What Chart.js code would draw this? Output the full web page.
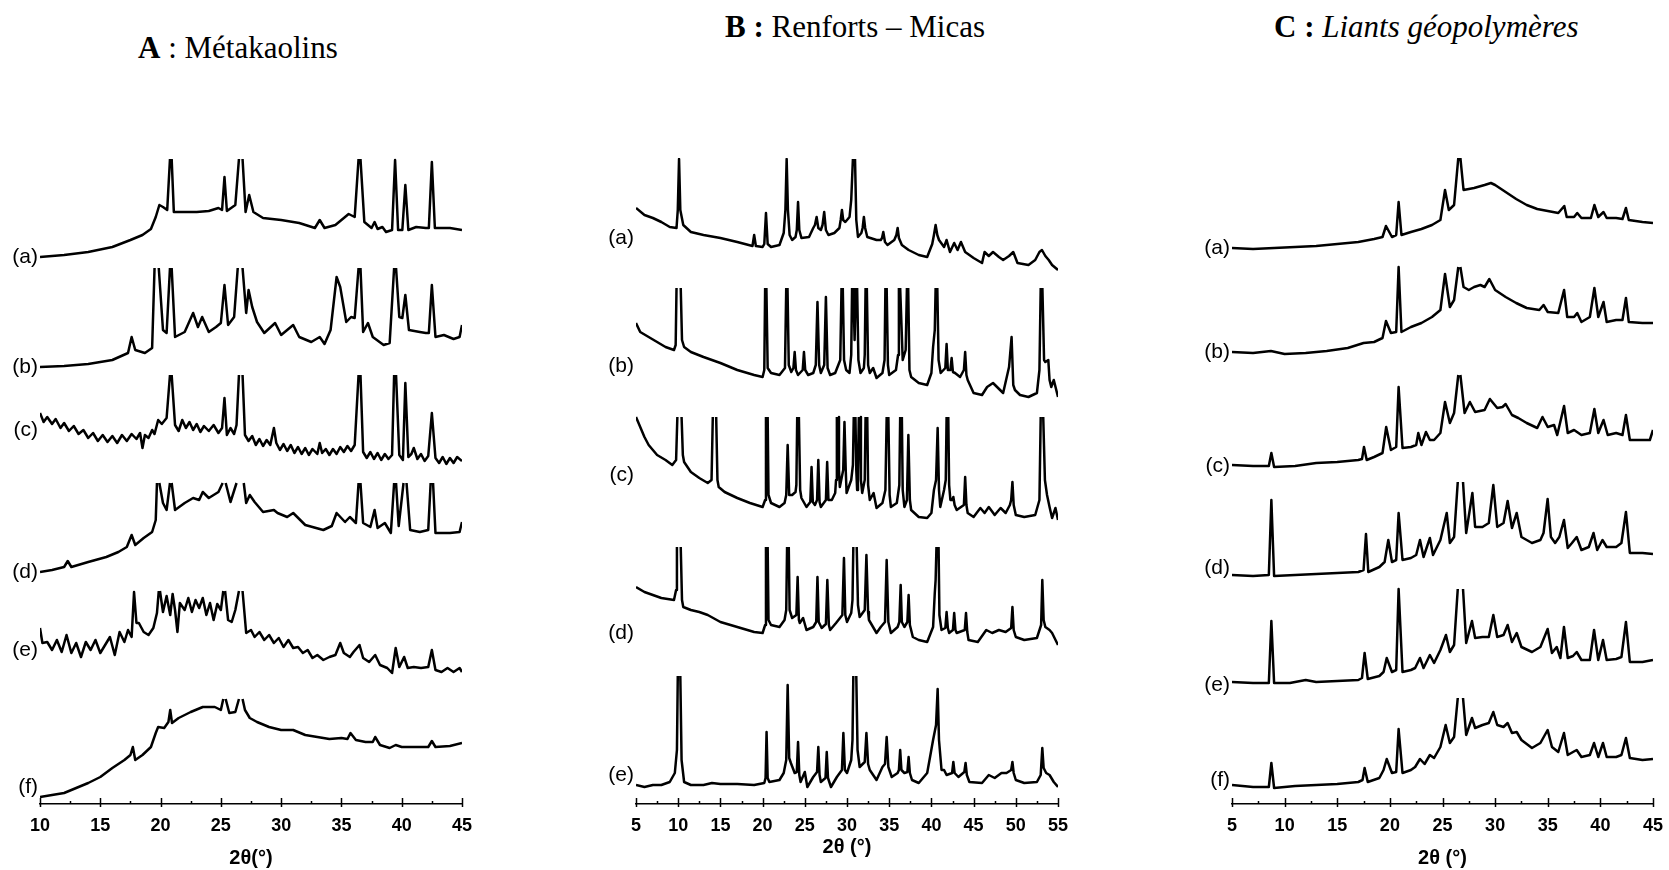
<!DOCTYPE html>
<html>
<head>
<meta charset="utf-8">
<script src="https://cdn.jsdelivr.net/npm/chart.js@4.4.1/dist/chart.umd.min.js"></script>
<style>
  body { margin: 0; background: #fff; width: 1669px; height: 870px; position: relative; overflow: hidden; }
  canvas { position: absolute; top: 0; }
  .ttl { position: absolute; font-family: "Liberation Serif", "Times New Roman", serif; font-size: 31px; line-height: 31px; color: #000; white-space: nowrap; }
</style>
</head>
<body>
<div class="ttl" style="left:138px; top:32px;"><b>A</b> : Métakaolins</div>
<div class="ttl" style="left:725px; top:11px;"><b>B :</b> Renforts – Micas</div>
<div class="ttl" style="left:1274px; top:11px;"><b>C :</b> <i>Liants géopolymères</i></div>

<canvas id="chartA" width="480" height="870" style="left:0px"></canvas>
<canvas id="chartB" width="490" height="870" style="left:590px"></canvas>
<canvas id="chartC" width="489" height="870" style="left:1180px"></canvas>

<script>
// sample labels
const labelsA = ["(a)", "(b)", "(c)", "(d)", "(e)", "(f)"];
const labelsB = ["(a)", "(b)", "(c)", "(d)", "(e)"];
const labelsC = ["(a)", "(b)", "(c)", "(d)", "(e)", "(f)"];

// A : metakaolins, [2theta, intensity a.u. incl. stacking offset]; null = cut peak top
const metaA_a = [[10,543],[12,545],[14,548],[16,553],[17.5,560],[18.5,565],[19.2,571],[19.6,583],[19.9,595],[20.2,593],[20.55,590],[20.78,641],[20.85,null],[20.92,641],[21.1,588],[22,588],[23,588],[24,589],[24.8,592],[25.1,590],[25.3,623],[25.5,589],[26.2,595],[26.5,641],[26.65,null],[26.8,641],[27.05,588],[27.35,605],[27.7,588],[28.5,582],[30,580],[31.5,577],[32.8,572],[33.2,580],[33.6,572],[34.5,575],[35.3,583],[35.6,586],[36.1,583],[36.42,641],[36.5,null],[36.58,641],[36.9,578],[37.5,572],[37.75,578],[38.0,571],[38.4,573],[38.7,568],[39.2,570],[39.45,640],[39.7,570],[40.05,570],[40.3,615],[40.55,570],[41.2,573],[42.0,572],[42.25,572],[42.5,638],[42.75,572],[44,572],[45,570]];
const metaA_b = [[10,433],[12,434],[14,436],[16,440],[17.3,447],[17.6,463],[17.9,450],[18.7,447],[19.3,452],[19.5,532],[19.68,null],[19.85,532],[20.2,470],[20.5,467],[20.78,532],[20.85,null],[20.92,532],[21.2,463],[22,468],[22.7,487],[23.1,473],[23.45,483],[24.0,468],[24.6,473],[25.0,477],[25.3,515],[25.6,475],[26.1,483],[26.4,532],[26.6,null],[26.8,532],[27.1,487],[27.3,510],[27.6,493],[28.0,478],[28.6,467],[29.5,477],[30.0,465],[31.0,475],[31.5,463],[32.5,458],[33.2,463],[33.6,456],[34.1,470],[34.6,523],[34.9,513],[35.4,478],[35.8,483],[36.1,482],[36.42,532],[36.5,null],[36.58,532],[36.8,468],[37.2,477],[37.6,463],[38.5,455],[39.0,457],[39.37,532],[39.45,null],[39.53,532],[39.8,483],[40.05,482],[40.3,505],[40.6,470],[41.5,468],[42.0,467],[42.25,467],[42.5,515],[42.8,463],[43.5,465],[44.3,461],[44.8,463],[45,475]];
const metaA_c = [[10,387],[10.3,378],[10.6,383],[11,376],[11.3,381],[11.7,372],[12,377],[12.4,369],[12.8,374],[13.2,366],[13.6,370],[14,362],[14.4,367],[14.8,359],[15.2,365],[15.6,358],[16,364],[16.4,357],[16.8,365],[17.2,359],[17.6,366],[18,361],[18.3,367],[18.5,352],[18.7,365],[19,362],[19.3,370],[19.5,366],[19.8,380],[20.1,376],[20.5,382],[20.78,425],[20.85,null],[20.92,425],[21.2,375],[21.5,369],[21.8,380],[22.1,372],[22.4,378],[22.7,370],[23,376],[23.3,368],[23.6,374],[24,369],[24.4,375],[24.8,367],[25.1,372],[25.3,402],[25.5,365],[25.8,372],[26.1,366],[26.3,375],[26.5,425],[26.65,null],[26.8,425],[27.0,365],[27.3,359],[27.6,364],[27.9,355],[28.2,361],[28.5,354],[28.8,360],[29.1,355],[29.4,372],[29.6,357],[29.9,350],[30.2,356],[30.5,349],[30.8,355],[31.1,347],[31.4,353],[31.7,346],[32,352],[32.3,345],[32.6,351],[33.0,346],[33.2,357],[33.4,347],[33.7,351],[34.0,345],[34.3,351],[34.6,346],[34.9,353],[35.2,348],[35.5,354],[35.8,349],[36.1,355],[36.42,425],[36.5,null],[36.58,425],[36.8,348],[37.1,342],[37.4,348],[37.7,341],[38,347],[38.3,340],[38.6,346],[38.9,341],[39.2,345],[39.37,425],[39.45,null],[39.53,425],[39.8,345],[40.1,340],[40.3,417],[40.55,343],[40.8,346],[41.0,352],[41.3,341],[41.6,346],[41.9,339],[42.2,344],[42.5,387],[42.8,342],[43.1,337],[43.4,343],[43.7,336],[44,342],[44.3,337],[44.6,343],[45,339]];
const metaA_d = [[10,228],[11,230],[12.0,233],[12.3,239],[12.6,233],[14,238],[15.5,243],[16.5,248],[17.2,253],[17.6,265],[17.9,255],[18.6,262],[19.3,268],[19.6,280],[19.7,317],[19.8,null],[19.9,317],[20.2,297],[20.5,290],[20.78,317],[20.85,null],[20.92,317],[21.2,290],[22,297],[22.7,302],[23.2,300],[23.5,308],[24.0,302],[24.8,308],[25.15,317],[25.3,null],[25.4,317],[25.8,298],[26.3,317],[26.6,null],[26.9,317],[27.1,297],[27.4,305],[27.8,298],[28.5,288],[29.4,290],[29.7,287],[30.5,283],[31,287],[32,275],[33.5,270],[34.2,274],[34.6,287],[35.3,278],[35.7,283],[36.2,277],[36.42,317],[36.5,null],[36.58,317],[36.8,277],[37.4,273],[37.75,290],[38.0,272],[38.6,277],[39.1,267],[39.37,317],[39.45,null],[39.53,317],[39.75,274],[40.15,317],[40.28,null],[40.4,317],[40.7,270],[41.5,268],[42.2,270],[42.4,317],[42.5,null],[42.6,317],[42.8,267],[44,267],[44.8,268],[45,278]];
const metaA_e = [[10.0,172],[10.2,157],[10.6,158],[11.0,150],[11.4,160],[11.8,148],[12.2,165],[12.6,147],[13.0,157],[13.4,143],[13.8,158],[14.2,150],[14.6,160],[15.0,147],[15.4,155],[15.8,163],[16.2,145],[16.6,168],[17.0,158],[17.3,170],[17.6,163],[17.8,208],[18.0,177],[18.2,177],[18.6,168],[19.0,165],[19.4,172],[19.7,187],[19.85,209],[19.9,null],[19.95,209],[20.2,188],[20.5,204],[20.8,185],[21.0,206],[21.2,190],[21.4,168],[21.6,197],[22.0,190],[22.3,202],[22.6,188],[22.9,200],[23.2,192],[23.5,202],[23.8,185],[24.1,197],[24.4,180],[24.7,196],[25.0,190],[25.2,209],[25.28,null],[25.35,209],[25.6,180],[25.9,178],[26.2,190],[26.5,209],[26.65,null],[26.8,209],[27.1,167],[27.5,170],[27.8,163],[28.2,168],[28.6,160],[29.0,165],[29.4,157],[29.8,162],[30.2,153],[30.6,160],[31.0,152],[31.4,153],[31.8,147],[32.2,150],[32.6,142],[33.0,145],[33.5,140],[34.0,143],[34.5,145],[34.9,157],[35.2,147],[35.7,143],[36.0,148],[36.5,155],[36.8,142],[37.3,138],[37.8,145],[38.2,135],[38.8,132],[39.2,127],[39.5,152],[39.8,133],[40.2,143],[40.5,132],[41.0,133],[41.6,132],[42.2,133],[42.5,150],[42.8,130],[43.3,128],[43.8,132],[44.3,128],[44.8,132],[45,128]];
const metaA_f = [[10,3],[11,5],[12,7],[13,12],[14,17],[15,23],[16,32],[17,40],[17.5,45],[17.7,53],[17.9,40],[18.5,45],[19.2,53],[19.6,67],[19.8,73],[20.3,72],[20.65,78],[20.8,90],[20.95,77],[21.5,82],[22.5,88],[23.5,93],[24.5,93],[25.0,90],[25.2,101],[25.3,null],[25.4,101],[25.7,87],[26.2,88],[26.5,101],[26.65,null],[26.8,101],[27.0,90],[27.4,82],[28,78],[29,73],[30,70],[31,70],[32,65],[33,63],[34,61],[35,62],[35.5,61],[35.75,67],[36.2,60],[37.0,58],[37.6,58],[37.8,63],[38.2,55],[39,52],[39.5,55],[40,53],[41,53],[42.2,53],[42.5,59],[42.8,53],[44,54],[45,57]];

// B : micas
const micaB_a = [[5,592],[6,585],[7,582],[8,578],[9,573],[9.8,572],[9.95,590],[10.1,641],[10.25,590],[10.6,575],[11.5,568],[13,565],[15,562],[17,558],[18.8,554],[19.0,565],[19.2,554],[20.0,553],[20.2,556],[20.4,587],[20.6,556],[21,553],[22.0,555],[22.5,567],[22.7,590],[22.85,641],[23.0,590],[23.2,565],[23.5,560],[23.9,563],[24.05,570],[24.2,598],[24.35,570],[24.6,562],[25.5,563],[26.0,572],[26.2,575],[26.4,583],[26.6,572],[26.9,570],[27.1,575],[27.3,588],[27.5,570],[27.8,565],[28.5,567],[29.1,572],[29.25,580],[29.4,590],[29.55,580],[29.8,578],[30.3,583],[30.5,600],[30.7,641],[30.85,null],[30.95,641],[31.1,580],[31.3,563],[31.7,567],[31.85,572],[32.0,583],[32.15,572],[32.4,563],[33.5,560],[34.0,560],[34.15,562],[34.3,568],[34.5,558],[34.8,555],[35.6,560],[35.85,565],[36.0,572],[36.15,562],[36.5,555],[37.3,550],[38.5,545],[39.5,543],[40.1,556],[40.3,565],[40.5,575],[40.7,565],[40.9,560],[41.5,553],[41.8,560],[42.2,548],[42.7,557],[43.1,550],[43.5,558],[44.0,548],[45.0,542],[46.0,537],[46.3,548],[46.8,544],[47.3,548],[48.0,543],[48.5,540],[49.2,544],[49.7,548],[50.2,537],[51.5,535],[52.3,540],[52.8,548],[53.1,550],[53.5,544],[53.9,540],[54.3,535],[55,530]];
const micaB_b = [[5,477],[5.5,468],[6.5,463],[7.5,458],[8.5,453],[9.5,450],[9.7,455],[9.8,512],[10.05,null],[10.3,512],[10.45,460],[10.7,453],[11.5,448],[13,443],[15,437],[17,430],[19,425],[20.0,423],[20.2,430],[20.3,512],[20.38,null],[20.45,512],[20.6,432],[21.0,427],[22.0,425],[22.65,432],[22.8,512],[22.88,null],[22.95,512],[23.1,435],[23.4,428],[23.65,432],[23.8,448],[23.95,430],[24.2,425],[24.75,430],[24.9,448],[25.05,430],[25.4,425],[26.0,427],[26.3,435],[26.5,498],[26.7,435],[26.9,427],[27.3,435],[27.5,503],[27.7,432],[28.0,425],[28.6,427],[29.2,440],[29.35,512],[29.43,null],[29.5,512],[29.65,440],[29.9,430],[30.3,427],[30.5,445],[30.6,512],[30.68,null],[30.75,512],[30.9,460],[31.05,512],[31.13,null],[31.2,512],[31.35,440],[31.6,427],[32.0,432],[32.1,445],[32.2,512],[32.28,null],[32.35,512],[32.5,435],[32.7,427],[33.1,432],[33.5,422],[34.2,427],[34.45,440],[34.55,512],[34.63,null],[34.7,512],[34.85,435],[35.0,425],[35.8,430],[36.05,445],[36.15,512],[36.23,null],[36.3,512],[36.6,440],[36.95,450],[37.1,512],[37.18,null],[37.25,512],[37.4,430],[37.6,423],[38.5,417],[39.5,415],[40.0,427],[40.2,453],[40.4,470],[40.5,512],[40.6,null],[40.7,512],[40.85,440],[41.1,427],[41.65,432],[41.8,456],[41.95,430],[42.25,430],[42.4,442],[42.55,428],[42.8,427],[43.4,423],[43.85,430],[44.0,448],[44.15,425],[44.3,420],[45,407],[46,405],[46.6,413],[47.3,417],[48.5,407],[49.2,433],[49.5,463],[49.7,415],[49.9,410],[50.5,405],[51.5,403],[52.5,407],[52.8,430],[52.95,512],[53.05,null],[53.15,512],[53.35,440],[53.5,438],[53.85,440],[54.0,420],[54.2,413],[54.5,420],[55,403]];
const micaB_c = [[5,383],[5.5,373],[6.0,363],[6.5,355],[7.0,350],[7.5,345],[8.5,340],[9.3,335],[9.75,340],[9.9,383],[10.15,null],[10.4,383],[10.55,345],[10.7,338],[11.5,328],[12.5,322],[13.5,317],[13.95,320],[14.1,383],[14.3,null],[14.5,383],[14.65,320],[14.8,313],[15.5,308],[17,302],[18.5,297],[20.0,293],[20.3,300],[20.4,383],[20.5,null],[20.6,383],[20.7,305],[21.0,297],[22.0,293],[22.6,297],[22.8,305],[22.97,355],[23.15,305],[23.5,305],[23.9,308],[24.0,315],[24.1,383],[24.2,null],[24.3,383],[24.45,310],[24.6,302],[25.2,293],[25.65,298],[25.8,333],[25.95,298],[26.2,295],[26.45,300],[26.6,340],[26.75,298],[26.9,293],[27.5,300],[27.65,338],[27.8,300],[28.2,300],[28.6,307],[28.7,320],[28.8,383],[28.88,null],[28.95,383],[29.05,330],[29.15,313],[29.55,330],[29.7,378],[29.85,330],[29.95,307],[30.5,320],[30.7,335],[30.8,383],[30.9,null],[31.0,383],[31.1,330],[31.2,310],[31.3,330],[31.4,383],[31.48,null],[31.55,383],[31.65,320],[31.8,307],[32.1,320],[32.2,383],[32.3,null],[32.4,383],[32.5,315],[32.7,300],[33.15,307],[33.5,292],[34.2,297],[34.55,310],[34.7,383],[34.8,null],[34.9,383],[35.05,305],[35.2,293],[35.9,297],[36.2,315],[36.3,383],[36.4,null],[36.5,383],[36.6,310],[36.8,293],[37.1,300],[37.27,365],[37.45,300],[37.6,290],[38.5,283],[39.5,282],[40.0,287],[40.3,310],[40.55,320],[40.74,372],[40.9,310],[41.05,293],[41.5,310],[41.7,320],[41.8,383],[41.9,null],[42.0,383],[42.1,315],[42.25,300],[42.45,300],[42.6,303],[42.75,295],[43.0,290],[43.85,295],[44.0,323],[44.15,295],[44.3,287],[45,283],[45.8,292],[46.3,287],[46.8,293],[47.5,285],[48.2,292],[48.8,287],[49.3,295],[49.45,300],[49.6,318],[49.75,295],[50.0,285],[51,283],[52.3,285],[52.8,300],[52.95,383],[53.1,null],[53.25,383],[53.45,320],[53.7,305],[54.0,293],[54.3,282],[54.7,292],[55,280]];
const micaB_d = [[5,213],[6,208],[7,205],[8,202],[9.5,200],[9.75,210],[9.85,253],[10.05,null],[10.3,253],[10.45,200],[10.6,193],[11.5,190],[12.5,188],[13.5,185],[15,178],[17,173],[19,168],[20.0,167],[20.3,175],[20.4,253],[20.5,null],[20.6,253],[20.7,180],[21.0,175],[22.0,173],[22.6,180],[22.8,190],[22.9,253],[23.0,null],[23.1,253],[23.2,190],[23.5,182],[24.0,185],[24.15,223],[24.3,180],[24.4,177],[24.8,182],[25.2,170],[26.0,173],[26.35,178],[26.5,223],[26.65,178],[27.0,172],[27.5,176],[27.67,220],[27.85,175],[28.0,170],[28.7,177],[29.45,185],[29.64,242],[29.8,185],[30.0,178],[30.5,187],[30.65,200],[30.75,253],[30.95,null],[31.15,253],[31.3,195],[31.5,183],[32.1,190],[32.3,245],[32.5,188],[32.6,180],[33.5,167],[34.0,173],[34.5,178],[34.7,240],[34.9,178],[35.2,167],[36.0,173],[36.2,178],[36.36,215],[36.5,178],[36.8,173],[37.15,178],[37.3,205],[37.45,175],[37.8,163],[38.5,160],[39.5,158],[40.2,173],[40.4,207],[40.5,220],[40.6,253],[40.72,null],[40.85,253],[40.95,185],[41.2,170],[41.65,172],[41.8,188],[41.95,172],[42.1,167],[42.55,170],[42.7,187],[42.85,170],[43.0,167],[43.95,170],[44.1,187],[44.25,168],[44.4,160],[45.5,158],[46.5,170],[47.2,167],[48,170],[48.8,168],[49.45,172],[49.6,193],[49.75,170],[50.0,163],[51,160],[52.5,162],[53.0,175],[53.14,220],[53.3,180],[53.5,173],[54.0,170],[54.3,167],[55,155]];
const micaB_e = [[5,15],[6,13],[7,15],[8,15],[9,18],[9.6,27],[9.85,50],[9.95,124],[10.1,null],[10.25,124],[10.4,40],[10.7,18],[11.5,15],[13,15],[14,17],[15,16],[17,16],[19,15],[20.2,17],[20.35,22],[20.47,68],[20.6,22],[20.8,18],[22.0,20],[22.5,27],[22.8,40],[22.97,115],[23.15,42],[23.35,37],[23.8,27],[24.05,28],[24.2,58],[24.35,25],[24.5,18],[25.0,28],[25.3,13],[26.0,23],[26.45,28],[26.6,53],[26.75,25],[26.9,18],[27.45,22],[27.6,48],[27.75,22],[28.1,13],[28.8,23],[29.4,30],[29.57,67],[29.75,30],[30.0,27],[30.5,40],[30.65,60],[30.75,124],[30.93,null],[31.1,124],[31.25,50],[31.5,33],[32.1,38],[32.3,67],[32.5,36],[32.7,30],[33.5,20],[34.2,33],[34.5,36],[34.7,63],[34.9,33],[35.3,23],[36.0,27],[36.15,30],[36.3,50],[36.45,30],[36.8,27],[37.15,28],[37.3,43],[37.45,27],[37.7,20],[38.5,17],[39.5,27],[40.2,60],[40.55,75],[40.74,111],[40.9,60],[41.2,30],[41.5,30],[41.8,25],[42.45,27],[42.6,38],[42.75,27],[43.2,23],[43.9,28],[44.05,37],[44.2,25],[44.5,18],[46.0,17],[46.8,25],[47.5,22],[48.3,27],[48.9,27],[49.45,30],[49.6,38],[49.75,27],[50.0,20],[51,17],[52.5,18],[52.95,25],[53.14,52],[53.3,32],[53.6,27],[54.0,25],[54.5,18],[55,13]];

// C : geopolymer binders
const geoC_a = [[5,552],[7,551],[9,552],[11,553],[13,554],[15,556],[17,558],[18.5,561],[19.3,563],[19.63,574],[20.2,563],[20.6,565],[20.83,598],[21.1,565],[22,568],[23,571],[24,575],[24.8,580],[25.24,610],[25.6,590],[26.1,595],[26.5,642],[26.6,null],[26.7,642],[27.0,610],[28,612],[29,615],[29.6,617],[30,615],[31,608],[32,601],[33,595],[34,591],[35,589],[36,587],[36.57,594],[36.8,583],[37.5,583],[37.8,587],[38.2,582],[39.1,582],[39.43,595],[39.8,583],[40.3,588],[40.6,582],[41.5,582],[42.1,581],[42.43,592],[42.7,580],[44,578],[45,577]];
const geoC_b = [[5,448],[7,447],[8.7,449],[10,446],[12,447],[14,449],[16,452],[17.5,457],[18.5,458],[19.3,462],[19.63,479],[20.1,467],[20.6,468],[20.83,533],[21.1,468],[22,473],[23,477],[24,483],[24.8,490],[25.24,526],[25.7,493],[26.1,500],[26.5,533],[26.6,null],[26.7,533],[27.0,513],[27.5,510],[28.0,513],[28.6,515],[29.0,513],[29.45,521],[30,510],[31,503],[32,497],[33,492],[34.2,490],[34.6,495],[35,488],[36.0,487],[36.55,510],[36.85,483],[37.5,483],[37.8,487],[38.2,478],[39.0,483],[39.43,512],[39.8,483],[40.3,498],[40.6,478],[41.5,480],[42.1,480],[42.43,502],[42.7,478],[44,477],[45,477]];
const geoC_c = [[5,335],[7,334],[8.5,334],[8.74,347],[9.0,333],[11,334],[13,337],[15,338],[17,340],[17.35,341],[17.54,353],[17.8,340],[18.5,343],[19.3,347],[19.65,373],[20.1,350],[20.6,353],[20.83,413],[21.2,352],[22,353],[22.5,355],[22.7,367],[23.0,355],[23.43,368],[23.8,360],[24.2,360],[24.8,367],[25.24,398],[25.7,377],[26.1,387],[26.5,425],[26.6,null],[26.7,425],[27.1,387],[27.6,398],[28.1,388],[29,390],[29.5,401],[30.2,392],[30.7,393],[31.0,396],[31.6,385],[32.2,382],[33,377],[34,372],[34.5,383],[35.0,373],[35.6,375],[35.9,365],[36.55,394],[36.9,367],[37.5,370],[38.2,365],[39.0,367],[39.43,391],[39.8,367],[40.3,380],[40.7,365],[41.5,367],[42.1,365],[42.43,385],[42.8,360],[44,360],[44.7,360],[45,370]];
const geoC_d = [[5,225],[7,224],[8.5,225],[8.74,300],[9.0,224],[11,225],[13,226],[15,227],[17,228],[17.5,230],[17.73,266],[17.95,228],[19,233],[19.5,238],[19.85,260],[20.2,238],[20.6,240],[20.83,287],[21.2,240],[22,242],[22.5,245],[22.86,260],[23.2,243],[23.8,262],[24.1,245],[24.8,260],[25.4,287],[25.7,257],[26.1,263],[26.45,318],[26.7,null],[26.95,318],[27.25,267],[27.84,307],[28.1,273],[28.8,273],[29.4,277],[29.83,315],[30.2,273],[30.8,277],[31.19,299],[31.6,272],[32.05,287],[32.5,263],[33.5,257],[34.3,260],[34.6,267],[34.99,301],[35.3,263],[35.7,257],[36.1,263],[36.54,280],[36.9,252],[37.3,257],[37.75,263],[38.2,250],[38.9,253],[39.35,267],[39.7,250],[40.2,260],[40.6,253],[41.5,253],[42.0,257],[42.43,288],[42.8,247],[44,247],[45,246]];
const geoC_e = [[5,118],[7,117],[8.5,117],[8.74,179],[9.0,117],[10.5,117],[12.0,120],[13,118],[15,119],[17,120],[17.35,122],[17.6,147],[17.9,121],[19,124],[19.4,128],[19.7,142],[20.2,128],[20.6,130],[20.83,211],[21.2,128],[22,130],[22.4,132],[22.86,142],[23.2,132],[23.8,145],[24.2,137],[24.8,150],[25.33,165],[25.7,148],[26.1,155],[26.45,211],[26.7,null],[26.95,211],[27.25,157],[27.8,179],[28.1,162],[28.8,163],[29.4,163],[29.83,185],[30.2,163],[30.8,165],[31.19,175],[31.6,158],[32.05,167],[32.5,153],[33.5,148],[34.3,153],[34.99,171],[35.4,147],[35.85,153],[36.2,142],[36.54,173],[36.9,142],[37.4,144],[37.75,148],[38.2,140],[39.0,140],[39.4,170],[39.8,140],[40.25,160],[40.6,140],[41.5,141],[42.0,143],[42.43,178],[42.8,138],[44,138],[45,140]];
const geoC_f = [[5,15],[7,13],[8.5,13],[8.74,37],[9.0,12],[11,14],[13,15],[15,16],[17,18],[17.4,20],[17.6,32],[17.9,18],[19,22],[19.4,30],[19.7,41],[20.2,27],[20.6,28],[20.83,71],[21.2,27],[22,30],[22.4,33],[22.86,41],[23.3,36],[23.8,45],[24.2,42],[24.8,53],[25.3,75],[25.7,57],[26.1,63],[26.45,102],[26.7,null],[26.95,102],[27.25,65],[27.8,82],[28.1,72],[28.8,75],[29.4,77],[29.83,88],[30.2,75],[30.8,73],[31.19,77],[31.6,67],[32.05,68],[32.5,60],[33.5,52],[34.3,57],[34.99,70],[35.4,53],[36.0,48],[36.54,67],[36.9,45],[37.4,48],[37.75,50],[38.2,43],[39.0,45],[39.4,57],[39.8,43],[40.25,57],[40.6,43],[41.5,43],[42.0,45],[42.43,62],[42.8,42],[44,40],[45,41]];

const sans = '"Liberation Sans", Arial, sans-serif';

// inward axis ticks + sample labels at the start of each trace
const decorPlugin = {
  id: "decor",
  afterDraw(chart, args, opts) {
    const { ctx, chartArea } = chart;
    const x = chart.scales.x;
    const y0 = x.top;
    ctx.save();
    ctx.strokeStyle = "#000";
    ctx.lineWidth = 1.5;
    for (let v = x.min; v <= x.max + 1e-6; v += 2.5) {
      const px = Math.round(x.getPixelForValue(v)) + 0.5;
      const major = Math.abs(v % 5) < 1e-6;
      ctx.beginPath();
      ctx.moveTo(px, y0 + (major ? 3 : 0));
      ctx.lineTo(px, y0 - (major ? 6 : 3));
      ctx.stroke();
    }
    ctx.fillStyle = "#000";
    ctx.font = "21px " + sans;
    ctx.textAlign = "right";
    ctx.textBaseline = "middle";
    chart.data.datasets.forEach((ds, i) => {
      const p = chart.getDatasetMeta(i).data[0];
      ctx.fillText(ds.label, chartArea.left - 2, p.y + (opts.nudge[i] || 0));
    });
    ctx.restore();
  }
};

function makeChart(id, series, labels, xMin, xMax, title, pad, nudge, titleBottom) {
  return new Chart(document.getElementById(id), {
    type: "line",
    data: {
      datasets: series.map((s, i) => ({
        label: labels[i],
        data: s.map(([x, y]) => ({ x, y })),
        borderColor: "#000",
        borderWidth: 2.5,
        borderJoinStyle: "round",
        pointRadius: 0,
        tension: 0,
        spanGaps: false,
        fill: false
      }))
    },
    options: {
      responsive: false,
      animation: false,
      events: [],
      layout: { padding: { top: 158, bottom: 0, left: pad[0], right: pad[1] } },
      plugins: { legend: { display: false }, tooltip: { enabled: false }, decor: { nudge } },
      scales: {
        x: {
          type: "linear",
          min: xMin,
          max: xMax,
          afterFit: (scale) => { scale.height = 66; scale.paddingLeft = 0; scale.paddingRight = 0; },
          grid: { display: false, drawTicks: false },
          border: { display: true, color: "#000", width: 1.5 },
          ticks: { stepSize: 5, autoSkip: false, maxRotation: 0, padding: 11, color: "#000", font: { family: sans, size: 18, weight: "bold" } },
          title: { display: true, text: title, color: "#000", padding: { top: 0, bottom: titleBottom }, font: { family: sans, size: 20, weight: "bold" } }
        },
        y: { display: false, min: -4, max: 642 }
      }
    },
    plugins: [decorPlugin]
  });
}

makeChart("chartA", [metaA_a, metaA_b, metaA_c, metaA_d, metaA_e, metaA_f], labelsA, 10, 45, "2θ(°)", [40, 18], [0, 0, 17, 0, 22, -10], 0);
makeChart("chartB", [micaB_a, micaB_b, micaB_c, micaB_d, micaB_e], labelsB, 5, 55, "2θ (°)", [46, 22], [30, 43, 58, 46, -10], 11);
makeChart("chartC", [geoC_a, geoC_b, geoC_c, geoC_d, geoC_e, geoC_f], labelsC, 5, 45, "2θ (°)", [52, 16], [0, 0, 1, -7, 3, -5], 0);
</script>
</body>
</html>
